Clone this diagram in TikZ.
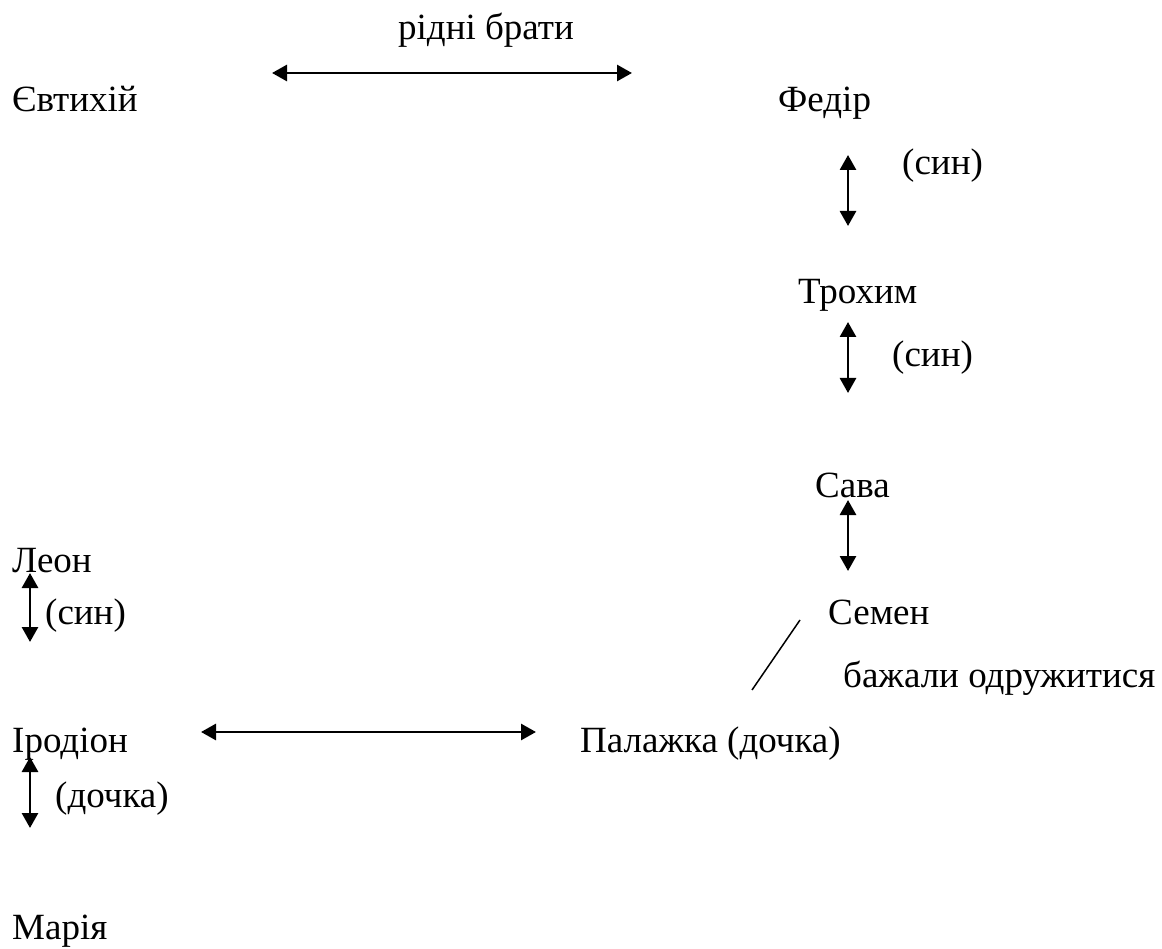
\documentclass[tikz,border=0pt]{standalone}
\usepackage{fontspec}
\setmainfont{Liberation Serif}
\newfontfamily\tnr{Liberation Serif}
\usetikzlibrary{arrows.meta}
\begin{document}
\begin{tikzpicture}[x=1pt,y=-1pt,
  lbl/.style={anchor=base west,inner sep=0pt,font=\tnr\fontsize{37}{44}\selectfont},
  rel/.style={line width=2.8pt,{Triangle[length=15pt,width=16pt]}-{Triangle[length=15pt,width=16pt]}},
  tie/.style={line width=1.5pt}]
\useasboundingbox (0,0) rectangle (1162,949);
% nodes
\node[lbl] (brati) at (398,40) {рідні брати};
\node[lbl] (evt) at (12,112) {Євтихій};
\node[lbl] (fed) at (778,112) {Федір};
\node[lbl] (syn1) at (902,175) {(син)};
\node[lbl] (troh) at (798,304) {Трохим};
\node[lbl] (syn2) at (892,367) {(син)};
\node[lbl] (sava) at (815,497) {Сава};
\node[lbl] (sem) at (828,624) {Семен};
\node[lbl] (baz) at (843,687) {бажали одружитися};
\node[lbl] (leon) at (12,572) {Леон};
\node[lbl] (syn3) at (45,624) {(син)};
\node[lbl] (irod) at (12,752) {Іродіон};
\node[lbl] (pal) at (580,752) {Палажка (дочка)};
\node[lbl] (doch) at (55,807) {(дочка)};
\node[lbl] (mar) at (12,939) {Марія};
% connector ends
\coordinate (t1) at (272,73);  \coordinate (t2) at (632,73);
\coordinate (v1a) at (848,155); \coordinate (v1b) at (848,226);
\coordinate (v2a) at (848,322); \coordinate (v2b) at (848,393);
\coordinate (v3a) at (848,500); \coordinate (v3b) at (848,571);
\coordinate (l1a) at (30,573);  \coordinate (l1b) at (30,642);
\coordinate (l2a) at (30,757);  \coordinate (l2b) at (30,828);
\coordinate (h1) at (201,732);  \coordinate (h2) at (536,732);
\coordinate (s1) at (800,620);  \coordinate (s2) at (752,690);
% connectors
\draw[rel] (t1) -- (t2);
\draw[rel] (v1a) -- (v1b);
\draw[rel] (v2a) -- (v2b);
\draw[rel] (v3a) -- (v3b);
\draw[rel] (l1a) -- (l1b);
\draw[rel] (l2a) -- (l2b);
\draw[rel] (h1) -- (h2);
\draw[tie] (s1) -- (s2);
\end{tikzpicture}
\end{document}
